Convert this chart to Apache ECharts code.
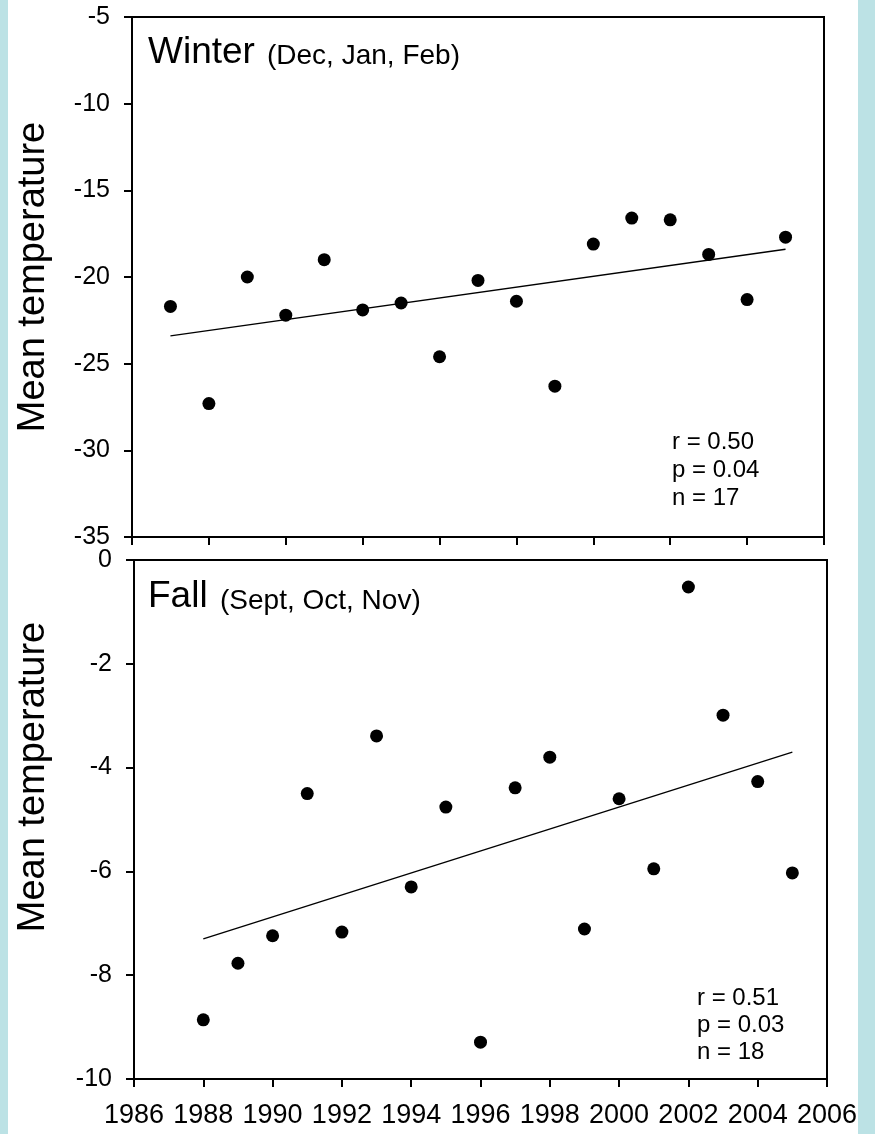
<!DOCTYPE html>
<html>
<head>
<meta charset="utf-8">
<script src="https://cdn.jsdelivr.net/npm/echarts@6/dist/echarts.min.js"></script>
<style>
  html, body { margin: 0; padding: 0; background: #fff; }
  #temp-chart { width: 875px; height: 1134px; }
</style>
</head>
<body>
<div id="temp-chart"></div>
<script>
// winter means (Dec, Jan, Feb), one point per year
const winterYears = [1988, 1989, 1990, 1991, 1992, 1993, 1994, 1995, 1996, 1997, 1998, 1999, 2000, 2001, 2002, 2003, 2004];
const winterTemps = [-21.7, -27.3, -20.0, -22.2, -19.0, -21.9, -21.5, -24.6, -20.2, -21.4, -26.3, -18.1, -16.6, -16.7, -18.7, -21.3, -17.7];
const winterTrend = [[1988, -23.4], [2004, -18.4]];

// fall means (Sept, Oct, Nov)
const fallYears = [1988, 1989, 1990, 1991, 1992, 1993, 1994, 1995, 1996, 1997, 1998, 1999, 2000, 2001, 2002, 2003, 2004, 2005];
const fallTemps = [-8.86, -7.77, -7.24, -4.5, -7.17, -3.39, -6.3, -4.76, -9.29, -4.39, -3.8, -7.11, -4.6, -5.95, -0.52, -2.99, -4.27, -6.03];
const fallTrend = [[1988, -7.3], [2005, -3.7]];

const winterStats = ["r = 0.50", "p = 0.04", "n = 17"];
const fallStats = ["r = 0.51", "p = 0.03", "n = 18"];

const FONT = "Liberation Sans, Arial, sans-serif";

function pairs(xs, ys) {
  return xs.map((x, i) => [x, ys[i]]);
}

function xAxisCfg(grid, min, max, showLabels) {
  return {
    type: "value",
    gridIndex: grid,
    min: min,
    max: max,
    interval: 2,
    axisLine: { onZero: false, lineStyle: { color: "#000", width: 2 } },
    axisTick: { length: 8, lineStyle: { color: "#000", width: 2 } },
    axisLabel: {
      show: showLabels,
      color: "#000",
      fontSize: 27,
      fontFamily: FONT,
      margin: 23,
      formatter: (v) => String(v),
    },
    splitLine: { show: false },
  };
}

function yAxisCfg(grid, min, max, step) {
  return {
    type: "value",
    gridIndex: grid,
    min: min,
    max: max,
    interval: step,
    axisLine: { onZero: false, lineStyle: { color: "#000", width: 2 } },
    axisTick: { length: 8, lineStyle: { color: "#000", width: 2 } },
    axisLabel: { color: "#000", fontSize: 25, fontFamily: FONT, margin: 22 },
    splitLine: { show: false },
  };
}

function yTitle(cy) {
  return {
    type: "text",
    x: 34,
    y: cy,
    rotation: Math.PI / 2,
    style: { text: "Mean temperature", font: "38px " + FONT, fill: "#000", align: "center", verticalAlign: "middle" },
  };
}

const option = {
  backgroundColor: "#fff",
  animation: false,
  grid: [
    { left: 132, top: 17, width: 692, height: 520, show: true, borderColor: "#000", borderWidth: 2, backgroundColor: "#fff" },
    { left: 134, top: 560, width: 693, height: 519, show: true, borderColor: "#000", borderWidth: 2, backgroundColor: "#fff" },
  ],
  xAxis: [xAxisCfg(0, 1987, 2005, false), xAxisCfg(1, 1986, 2006, true)],
  yAxis: [yAxisCfg(0, -35, -5, 5), yAxisCfg(1, -10, 0, 2)],
  series: [
    {
      type: "line",
      xAxisIndex: 0,
      yAxisIndex: 0,
      data: winterTrend,
      showSymbol: false,
      silent: true,
      lineStyle: { color: "#000", width: 1.3 },
    },
    {
      type: "scatter",
      xAxisIndex: 0,
      yAxisIndex: 0,
      data: pairs(winterYears, winterTemps),
      symbolSize: 13,
      itemStyle: { color: "#000", opacity: 1 },
    },
    {
      type: "line",
      xAxisIndex: 1,
      yAxisIndex: 1,
      data: fallTrend,
      showSymbol: false,
      silent: true,
      lineStyle: { color: "#000", width: 1.3 },
    },
    {
      type: "scatter",
      xAxisIndex: 1,
      yAxisIndex: 1,
      data: pairs(fallYears, fallTemps),
      symbolSize: 13,
      itemStyle: { color: "#000", opacity: 1 },
    },
  ],
  graphic: [
    // light blue side strips
    { type: "rect", left: 0, top: 0, shape: { width: 8, height: 1134 }, style: { fill: "#bce2e5" } },
    { type: "rect", left: 858, top: 0, shape: { width: 17, height: 1134 }, style: { fill: "#bce2e5" } },
    // axis titles
    yTitle(277),
    yTitle(777),
    // panel titles
    { type: "text", x: 148, y: 53, style: { text: "Winter", font: "37px " + FONT, fill: "#000", verticalAlign: "middle" } },
    { type: "text", x: 267, y: 56, style: { text: "(Dec, Jan, Feb)", font: "28px " + FONT, fill: "#000", verticalAlign: "middle" } },
    { type: "text", x: 148, y: 597, style: { text: "Fall", font: "37px " + FONT, fill: "#000", verticalAlign: "middle" } },
    { type: "text", x: 220, y: 601, style: { text: "(Sept, Oct, Nov)", font: "28px " + FONT, fill: "#000", verticalAlign: "middle" } },
    // stats boxes
    { type: "text", x: 672, y: 428, style: { text: winterStats.join("\n"), font: "24px " + FONT, lineHeight: 28, fill: "#000", verticalAlign: "top" } },
    { type: "text", x: 697, y: 985, style: { text: fallStats.join("\n"), font: "24px " + FONT, lineHeight: 27, fill: "#000", verticalAlign: "top" } },
  ],
};

let myChart = echarts.init(document.getElementById("temp-chart"));
myChart.setOption(option);
</script>
</body>
</html>
